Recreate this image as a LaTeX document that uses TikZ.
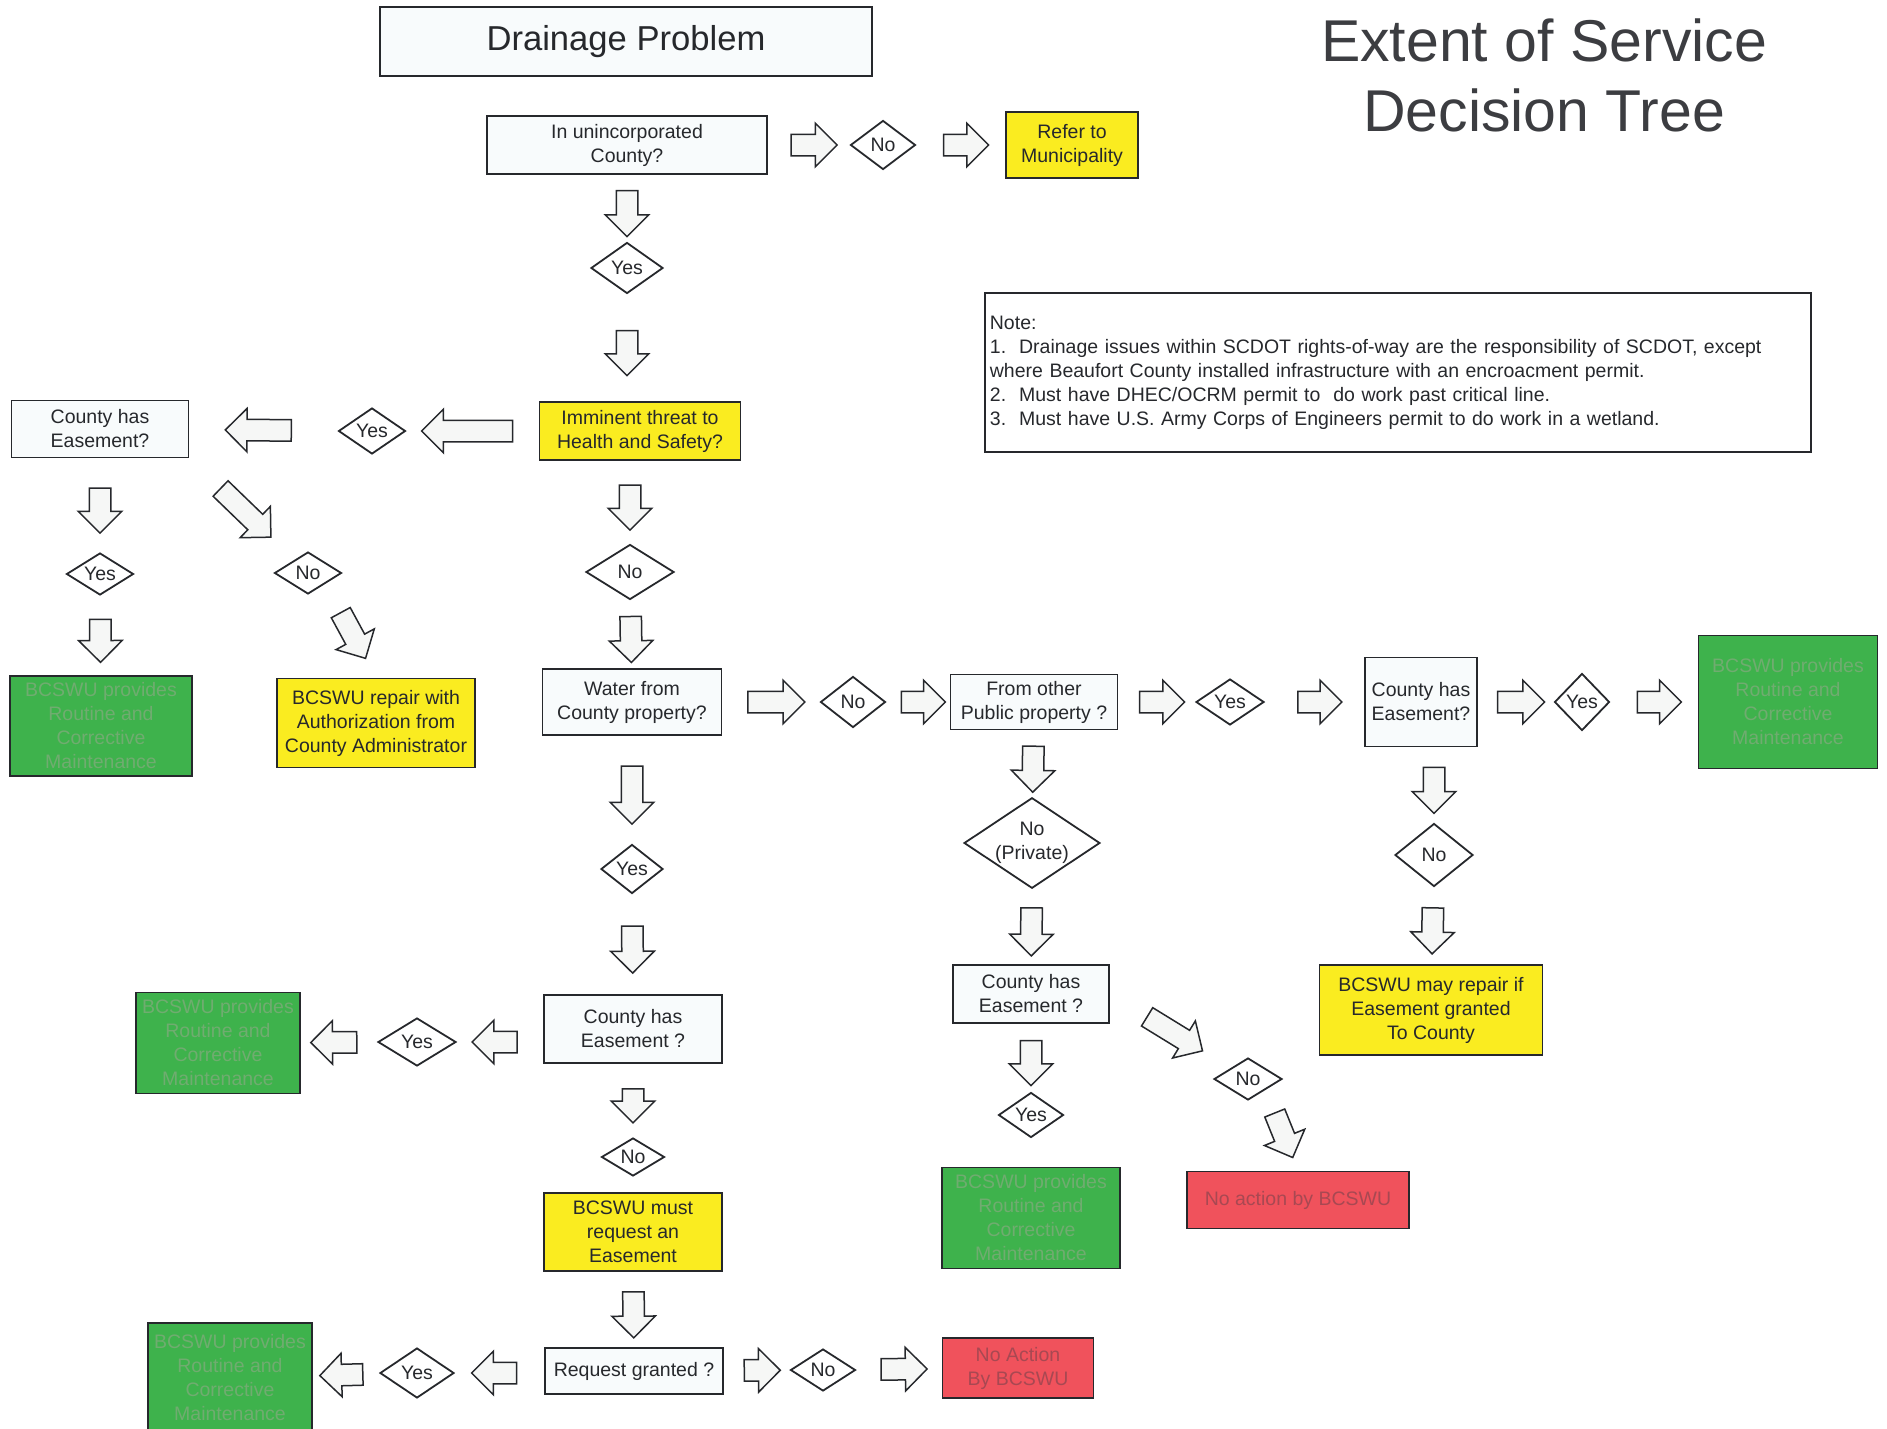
\documentclass[tikz,border=0pt]{standalone}
\usepackage{fontspec}
\setmainfont{Liberation Sans}
\usetikzlibrary{shapes.geometric,shapes.arrows}

\definecolor{inkgray}{RGB}{38,40,44}
\definecolor{boxfill}{RGB}{248,251,252}
\definecolor{yellowfill}{RGB}{250,236,32}
\definecolor{greenfill}{RGB}{62,178,76}
\definecolor{greentext}{RGB}{112,172,112}
\definecolor{redfill}{RGB}{240,82,92}
\definecolor{redtext}{RGB}{168,72,82}
\definecolor{arrowfill}{RGB}{246,247,246}

\tikzset{
  sz/.style 2 args={minimum width=#1pt, minimum height=#2pt},
  base/.style={draw=inkgray, line width=1.8pt, text=inkgray, align=center,
    inner sep=2pt, font=\fontsize{19.5}{24}\selectfont},
  plainbox/.style={base, rectangle, fill=boxfill},
  yellowbox/.style={base, rectangle, fill=yellowfill},
  greenbox/.style={base, rectangle, fill=greenfill, text=greentext},
  redbox/.style={base, rectangle, fill=redfill, text=redtext},
  choice/.style={base, diamond, fill=white, aspect=1.5, inner sep=0pt},
  barrow/.style={single arrow, draw=inkgray, fill=arrowfill, line width=1.5pt,
    inner xsep=0pt, inner ysep=10pt, single arrow head extend=11pt,
    sloped, allow upside down, midway, minimum height=#1pt},
  barrow/.default=45,
}

\begin{document}
\begin{tikzpicture}[x=1pt, y=-1pt]

        \useasboundingbox (0,0) rectangle (1887,1429);

        % Heading
        \node[plainbox, sz={492}{69}, font=\fontsize{34.6}{40}\selectfont] (drain) at (626,41.5) {Drainage Problem};
        \node[text=inkgray!90, align=center, font=\fontsize{59}{70}\selectfont] (title) at (1544,75) {Extent of Service\\Decision Tree};

        \node[draw=inkgray, line width=1.8pt, anchor=north west, text=inkgray, align=left, text width=816pt,
              minimum height=159pt, inner sep=5pt, font=\fontsize{19.5}{24}\selectfont] (note) at (984,292)
              {Note:\\
               1.\ \ Drainage issues within SCDOT rights-of-way are the responsibility of SCDOT, except\\
               where Beaufort County installed infrastructure with an encroacment permit.\\
               2.\ \ Must have DHEC/OCRM permit to\ \ do work past critical line.\\
               3.\ \ Must have U.S. Army Corps of Engineers permit to do work in a wetland.};

        % Top of the tree
        \node[plainbox, sz={280}{58}] (unin) at (627,145) {In unincorporated\\County?};
        \node[choice, sz={65}{49}] (noA) at (883,145) {No};
        \node[yellowbox, sz={132}{66}] (refer) at (1072,145) {Refer to\\Municipality};
        \node[choice, sz={72}{51}] (yesA) at (627,268) {Yes};
        \node[yellowbox, sz={201}{58}] (threat) at (640,431) {Imminent threat to\\Health and Safety?};

        % Imminent threat branch
        \node[choice, sz={67}{46}] (yesB) at (372,431) {Yes};
        \node[plainbox, sz={177}{57}] (easeA) at (100,429) {County has\\Easement?};
        \node[choice, sz={67}{42}] (yesC) at (100,574) {Yes};
        \node[greenbox, sz={182}{100}] (greenA) at (101,726) {BCSWU provides\\Routine and\\Corrective\\Maintenance};
        \node[choice, sz={67}{42}] (noC) at (308,573) {No};
        \node[yellowbox, sz={198}{89}] (authA) at (376,723) {BCSWU repair with\\Authorization from\\County Administrator};

        % Water from County property
        \node[choice, sz={88}{55}] (noB) at (630,572) {No};
        \node[plainbox, sz={179}{66}] (water) at (632,702) {Water from\\County property?};
        \node[choice, sz={65}{51}] (noD) at (853,702) {No};
        \node[plainbox, sz={167}{55}] (other) at (1034,702) {From other\\Public property ?};
        \node[choice, sz={68}{46}] (yesD) at (1230,702) {Yes};
        \node[plainbox, sz={112}{89}] (easeB) at (1421,702) {County has\\Easement?};
        \node[choice, sz={55}{57}] (yesE) at (1582,702) {Yes};
        \node[greenbox, sz={179}{133}] (greenB) at (1788,702) {BCSWU provides\\Routine and\\Corrective\\Maintenance};
        \node[choice, sz={78}{63}] (noE) at (1434,855) {No};
        \node[yellowbox, sz={223}{90}] (mayRepair) at (1431,1010) {BCSWU may repair if\\Easement granted\\To County};

        % Private property
        \node[choice, sz={135}{89}] (noPriv) at (1032,843) {No\\(Private)};
        \node[plainbox, sz={156}{58}] (easeC) at (1031,994) {County has\\Easement ?};
        \node[choice, sz={65}{45}] (yesF) at (1031,1115) {Yes};
        \node[greenbox, sz={178}{101}] (greenC) at (1031,1218) {BCSWU provides\\Routine and\\Corrective\\Maintenance};
        \node[choice, sz={68}{42}] (noF) at (1248,1079) {No};
        \node[redbox, sz={222}{57}] (redA) at (1298,1200) {No action by BCSWU};

        % County property
        \node[choice, sz={62}{49}] (yesG) at (632,869) {Yes};
        \node[plainbox, sz={178}{68}] (easeD) at (633,1029) {County has\\Easement ?};
        \node[choice, sz={78}{48}] (yesH) at (417,1042) {Yes};
        \node[greenbox, sz={164}{101}] (greenD) at (218,1043) {BCSWU provides\\Routine and\\Corrective\\Maintenance};
        \node[choice, sz={63}{38}] (noG) at (633,1157) {No};
        \node[yellowbox, sz={178}{78}] (mustReq) at (633,1232) {BCSWU must\\request an\\Easement};
        \node[plainbox, sz={178}{46}] (granted) at (634,1371) {Request granted ?};
        \node[choice, sz={74}{50}] (yesI) at (417,1373) {Yes};
        \node[greenbox, sz={164}{110}] (greenE) at (230,1378) {BCSWU provides\\Routine and\\Corrective\\Maintenance};
        \node[choice, sz={65}{42}] (noH) at (823,1370) {No};
        \node[redbox, sz={151}{60}] (redB) at (1018,1368) {No Action\\By BCSWU};

        % Block arrows
        \foreach \from/\to/\len in {unin/noA/46, noA/refer/45, unin/yesA/46, yesA/yesA |- threat.north/45,
            threat/yesB/91, yesB/easeA/66, easeA/yesC/45, yesC/greenA/43,
            easeA.south east/noC/70, noC.south east/authA.north/52,
            noB |- threat.south/noB/45, noB/water/46,
            water/noD/57, noD/other/44, other/yesD/45, yesD/easeB/44, easeB/yesE/47, yesE/greenB/44,
            noE |- easeB.south/noE/46, noE/mayRepair/46,
            other/noPriv/46, noPriv/easeC/48, easeC/yesF/45,
            easeC.east/noF.north west/65, noF.south east/redA.north/48,
            water/yesG/58, yesG/easeD/47, yesH -| easeD.west/yesH/45, yesH/greenD/46, easeD/noG/34,
            mustReq/granted/46, yesI -| granted.west/yesI/45, yesI/greenE/43,
            granted/noH/36, noH/redB/46}{
            \path (\from) -- node[barrow=\len] {} (\to);
 }

        \end{tikzpicture}
\end{document}
